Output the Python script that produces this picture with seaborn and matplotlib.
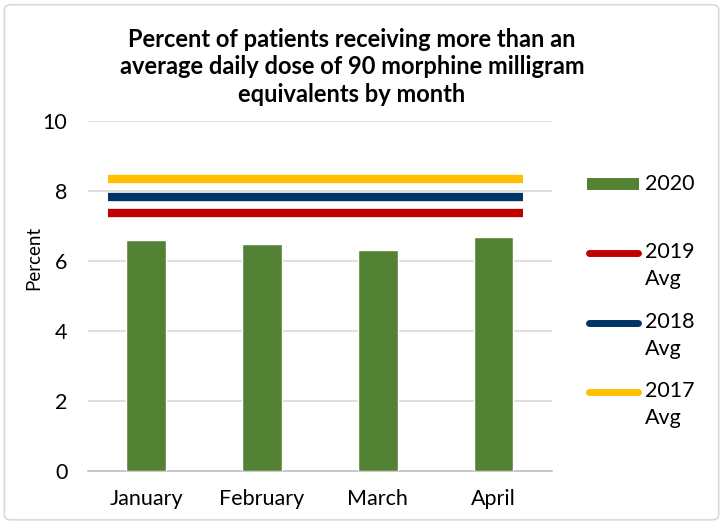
import matplotlib
matplotlib.use("Agg")
import matplotlib.pyplot as plt
from matplotlib.patches import FancyBboxPatch, Rectangle
from matplotlib.lines import Line2D
import seaborn as sns
import pandas as pd

months = ["January", "February", "March", "April"]
pct_2020 = [6.6, 6.49, 6.31, 6.7]
avg_labels = ["2019\nAvg", "2018\nAvg", "2017\nAvg"]
avg_values = [7.36, 7.84, 8.34]

GREEN = "#548235"
AVG_COLORS = ["#c00000", "#003366", "#ffc000"]
GRID = "#d9d9d9"
TEXT = "#000000"
W, H = 723, 523

sns.set_theme(style="white")
plt.rcParams["font.family"] = ["Lato", "DejaVu Sans"]

fig = plt.figure(figsize=(7.23, 5.23), dpi=100)
fig.patches.append(FancyBboxPatch((0.006, 0.006), 0.988, 0.985,
                                  boxstyle="round,pad=0,rounding_size=0.01",
                                  transform=fig.transFigure, fill=False,
                                  edgecolor="#d9d9d9", linewidth=1.2))
ax = fig.add_axes([0.122, 0.0994, 0.641, 0.669])

df = pd.DataFrame({"month": months, "pct": pct_2020})
sns.barplot(data=df, x="month", y="pct", color=GREEN, width=0.34,
            saturation=1, ax=ax, zorder=3)

for val, col in zip(avg_values, AVG_COLORS):
    ax.hlines(val, -0.33, 3.25, color=col, linewidth=6, zorder=4)

ax.set_xlim(-0.5, 3.5)
ax.set_ylim(0, 10)
ax.set_yticks(range(0, 11, 2))
ax.yaxis.grid(True, color=GRID, linewidth=1.2, zorder=0)
ax.set_axisbelow(True)
for sp in ["top", "right", "left"]:
    ax.spines[sp].set_visible(False)
ax.spines["bottom"].set_color("#bfbfbf")
ax.spines["bottom"].set_linewidth(1.2)
ax.tick_params(axis="both", labelsize=15.5, colors=TEXT, length=0)
ax.tick_params(axis="y", pad=15)
ax.tick_params(axis="x", pad=13)
ax.set_xlabel("")
ax.set_ylabel("Percent", fontsize=13.5, color=TEXT)
ax.yaxis.set_label_coords(-0.099, 0.61)

fig.text(0.487, 0.946,
         "Percent of patients receiving more than an\n"
         "average daily dose of 90 morphine milligram\n"
         "equivalents by month",
         ha="center", va="top", fontsize=17, fontweight="bold", color=TEXT,
         linespacing=1.22)

# legend, drawn by hand so the swatch sits on the first text line
def fx(px):
    return px / W


def fy(py):
    return 1 - py / H


fig.patches.append(Rectangle((fx(587), fy(190)), fx(52), 12 / H,
                             transform=fig.transFigure, facecolor=GREEN,
                             edgecolor="none"))
fig.text(fx(645), fy(184), "2020", ha="left", va="center",
         fontsize=15.5, color=TEXT)
for i, (lab, col) in enumerate(zip(avg_labels, AVG_COLORS)):
    py = 253 + i * 69.5
    fig.lines.append(Line2D([fx(589), fx(638)], [fy(py), fy(py)],
                            transform=fig.transFigure, color=col,
                            linewidth=5, solid_capstyle="round"))
    fig.text(fx(645), fy(py - 11), lab, ha="left", va="top",
             fontsize=15.5, color=TEXT, linespacing=1.45)

fig.savefig("out.png", dpi=100)
